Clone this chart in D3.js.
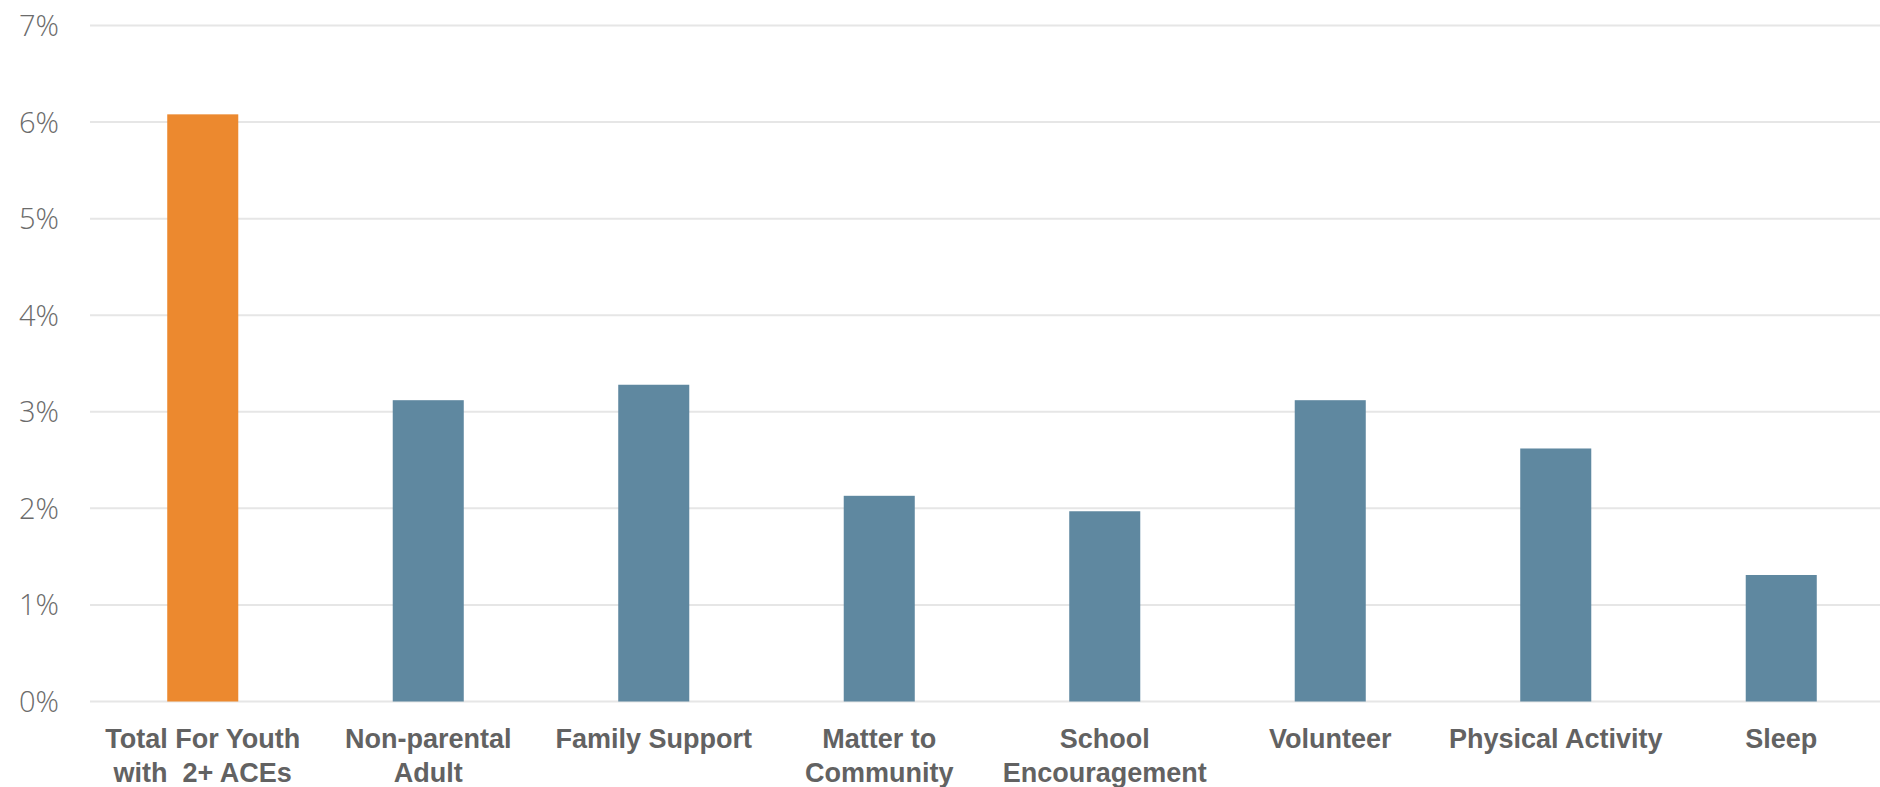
<!DOCTYPE html>
<html>
<head>
<meta charset="utf-8">
<script src="https://cdn.jsdelivr.net/npm/d3@7"></script>
<style>
  html, body { margin: 0; padding: 0; background: #ffffff; overflow: hidden; }
  svg { display: block; }
  .tick-label { font-family: "Open Sans", "Liberation Sans", sans-serif; font-weight: 300; font-size: 29px; fill: #6b6b6b; }
  .cat-label { font-family: "Liberation Sans", Arial, sans-serif; font-weight: 700; font-size: 27px; fill: #626262; white-space: pre; }
</style>
</head>
<body>
<svg id="chart" width="1880" height="787"></svg>
<script>
// ---- data ----
const categories = [
  ["Total For Youth", "with  2+ ACEs"],
  ["Non-parental", "Adult"],
  ["Family Support"],
  ["Matter to", "Community"],
  ["School", "Encouragement"],
  ["Volunteer"],
  ["Physical Activity"],
  ["Sleep"]
];
const values = [6.08, 3.12, 3.28, 2.13, 1.97, 3.12, 2.62, 1.31];
const highlight = [true, false, false, false, false, false, false, false];
const yTicks = [0, 1, 2, 3, 4, 5, 6, 7];
const tickLabels = ["0%", "1%", "2%", "3%", "4%", "5%", "6%", "7%"];

// ---- layout ----
const svg = d3.select("#chart");
const keys = categories.map((c, i) => i);

const x = d3.scaleBand()
  .domain(keys)
  .range([90, 1894])
  .paddingInner(0.685)
  .paddingOuter(0.3425);

const y = d3.scaleLinear()
  .domain([0, 7])
  .range([701.5, 25.5]);

// gridlines
svg.append("g")
  .selectAll("line")
  .data(yTicks)
  .join("line")
  .attr("x1", 90)
  .attr("x2", 1894)
  .attr("y1", d => y(d))
  .attr("y2", d => y(d))
  .attr("stroke", "#e6e6e6")
  .attr("stroke-width", 2);

// y tick labels
svg.append("g")
  .selectAll("text")
  .data(yTicks)
  .join("text")
  .attr("class", "tick-label")
  .attr("x", 59)
  .attr("y", d => y(d))
  .attr("dy", "0.36em")
  .attr("text-anchor", "end")
  .text((d, i) => tickLabels[i]);

// bars
svg.append("g")
  .selectAll("rect")
  .data(values)
  .join("rect")
  .attr("x", (d, i) => x(i))
  .attr("width", x.bandwidth())
  .attr("y", d => y(d))
  .attr("height", d => y(0) - y(d))
  .attr("fill", (d, i) => highlight[i] ? "#EC892F" : "#5F88A0");

// category labels
const labels = svg.append("g")
  .selectAll("text")
  .data(categories)
  .join("text")
  .attr("class", "cat-label")
  .attr("text-anchor", "middle")
  .attr("x", (d, i) => x(i) + x.bandwidth() / 2)
  .attr("y", 748);

labels.selectAll("tspan")
  .data(d => d)
  .join("tspan")
  .attr("x", function () { return d3.select(this.parentNode).attr("x"); })
  .attr("dy", (d, j) => j === 0 ? 0 : 34)
  .text(d => d);
</script>
</body>
</html>
